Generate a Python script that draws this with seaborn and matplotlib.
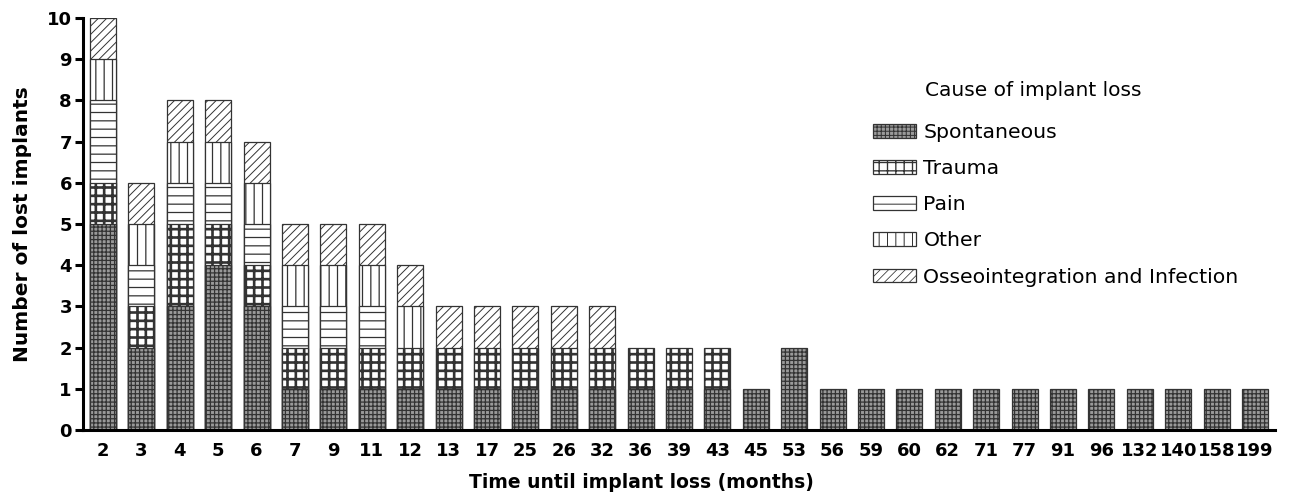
import matplotlib
matplotlib.use("Agg")
import matplotlib.pyplot as plt
import seaborn as sns
import numpy as np
import pandas as pd
from matplotlib.patches import Patch

# ---- data ----
months = ["2", "3", "4", "5", "6", "7", "9", "11", "12", "13", "17", "25", "26", "32",
          "36", "39", "43", "45", "53", "56", "59", "60", "62", "71", "77", "91", "96",
          "132", "140", "158", "199"]
spontaneous = [5, 2, 3, 4, 3, 1, 1, 1, 1, 1, 1, 1, 1, 1, 1, 1, 1, 1, 2, 1, 1, 1, 1, 1, 1, 1, 1, 1, 1, 1, 1]
trauma      = [1, 1, 2, 1, 1, 1, 1, 1, 1, 1, 1, 1, 1, 1, 1, 1, 1, 0, 0, 0, 0, 0, 0, 0, 0, 0, 0, 0, 0, 0, 0]
pain        = [2, 1, 1, 1, 1, 1, 1, 1, 0, 0, 0, 0, 0, 0, 0, 0, 0, 0, 0, 0, 0, 0, 0, 0, 0, 0, 0, 0, 0, 0, 0]
other       = [1, 1, 1, 1, 1, 1, 1, 1, 1, 0, 0, 0, 0, 0, 0, 0, 0, 0, 0, 0, 0, 0, 0, 0, 0, 0, 0, 0, 0, 0, 0]
osseo       = [1, 1, 1, 1, 1, 1, 1, 1, 1, 1, 1, 1, 1, 1, 0, 0, 0, 0, 0, 0, 0, 0, 0, 0, 0, 0, 0, 0, 0, 0, 0]
causes = ["Spontaneous", "Trauma", "Pain", "Other", "Osseointegration and Infection"]
yticks = list(range(0, 11))

# ---- styles ----
styles = {
    "Spontaneous": dict(face="#9a9a9a", hatch="++++", hlw=0.9),
    "Trauma": dict(face="white", hatch="++", hlw=1.9),
    "Pain": dict(face="white", hatch="--", hlw=0.9),
    "Other": dict(face="white", hatch="||", hlw=0.9),
    "Osseointegration and Infection": dict(face="white", hatch="////", hlw=0.7),
}

sns.set_theme(style="white")
plt.rcParams["font.family"] = ["DejaVu Sans"]
plt.rcParams.update({"text.color": "black", "axes.labelcolor": "black",
                     "xtick.color": "black", "ytick.color": "black"})

fig = plt.figure(figsize=(12.89, 4.97), dpi=100)
ax = fig.add_axes([83 / 1289, 67 / 497, 1192 / 1289, (430 - 18) / 497])

layers = [spontaneous, trauma, pain, other, osseo]
cum = np.cumsum(np.array(layers), axis=0)
df = pd.DataFrame({"month": months})

# draw from the top layer down so lower layers overlay upper ones
for i in range(len(causes) - 1, -1, -1):
    name = causes[i]
    st = styles[name]
    height = np.where(np.array(layers[i]) > 0, cum[i].astype(float), 0.0)
    df["h"] = height
    with plt.rc_context({"hatch.linewidth": st["hlw"], "hatch.color": "#1a1a1a"}):
        sns.barplot(data=df, x="month", y="h", order=months, color=st["face"],
                    saturation=1, width=0.68, edgecolor="#333333", linewidth=0.9,
                    hatch=st["hatch"], ax=ax, errorbar=None)
        for p in ax.patches[-len(months):]:
            if hasattr(p, "set_hatch_linewidth"):
                p.set_hatch_linewidth(st["hlw"])
            p.set_facecolor(st["face"])
            p.set_edgecolor("#333333")

ax.set_xlim(-0.52, 30.52)
ax.set_ylim(0, 10)
ax.set_yticks(yticks)
ax.set_yticklabels([str(t) for t in yticks], fontsize=13, fontweight="bold", color="black")
ax.set_xticks(range(len(months)))
ax.set_xticklabels(months, fontsize=13, fontweight="bold", color="black")
ax.tick_params(axis="y", which="both", left=True, length=6, width=2.2, direction="out", pad=2, color="black")
ax.tick_params(axis="x", bottom=False, length=0, pad=9)
for s in ["top", "right"]:
    ax.spines[s].set_visible(False)
for s in ["left", "bottom"]:
    ax.spines[s].set_linewidth(2.2)
    ax.spines[s].set_color("black")
ax.grid(False)
ax.set_xlabel("Time until implant loss (months)", fontsize=13.5, fontweight="bold", color="black")
ax.xaxis.set_label_coords((641 - 83) / 1192, (430 - 473) / 412)
ax.set_ylabel("Number of lost implants", fontsize=14.5, fontweight="bold", labelpad=11, color="black")

# legend
handles = []
for name in causes:
    st = styles[name]
    handles.append(Patch(facecolor=st["face"], edgecolor="#333333", hatch=st["hatch"],
                         linewidth=0.9, label=name))
with plt.rc_context({"hatch.linewidth": 0.8}):
    leg = fig.legend(handles=handles, loc="upper left",
                     bbox_to_anchor=(873 / 1289, 1 - 123 / 497),
                     frameon=False, fontsize=14.7, handlelength=2.12, handleheight=0.65,
                     handletextpad=0.35, labelspacing=0.84, borderpad=0, borderaxespad=0)
for t in leg.get_texts():
    t.set_color("black")
for h, name in zip(leg.legend_handles, causes):
    if hasattr(h, "set_hatch_linewidth"):
        h.set_hatch_linewidth(min(styles[name]["hlw"], 1.2) * 0.8)
fig.text(925 / 1289, 1 - 91 / 497, "Cause of implant loss", fontsize=14.5, va="center", ha="left", color="black")

fig.savefig("out.png", dpi=100)
